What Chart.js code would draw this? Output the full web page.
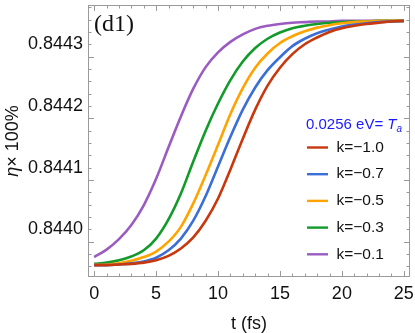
<!DOCTYPE html>
<html>
<head>
<meta charset="utf-8">
<script src="https://cdn.jsdelivr.net/npm/chart.js@4.4.1/dist/chart.umd.min.js"></script>
<style>
  html, body { margin: 0; padding: 0; background: #ffffff; }
  #wrap { width: 415px; height: 333px; }
</style>
</head>
<body>
<div id="wrap"><canvas id="c" width="415" height="333"></canvas></div>
<script>
// ---- data ----
const timeFs = [0,1,2,3,4,5,6,7,8,9,10,11,12,13,14,15,16,17,18,19,20,21,22,23,24,25];
const kMinus10 = [0.843942,0.843942,0.843943,0.843944,0.843946,0.843950,0.843957,0.843969,0.843987,0.844014,0.844050,0.844097,0.844147,0.844194,0.844233,0.844262,0.844284,0.844300,0.844311,0.844320,0.844326,0.844330,0.844333,0.844335,0.844337,0.844338];
const kMinus07 = [0.843942,0.843942,0.843943,0.843945,0.843948,0.843954,0.843966,0.843985,0.844014,0.844054,0.844102,0.844150,0.844194,0.844230,0.844258,0.844279,0.844297,0.844309,0.844318,0.844324,0.844329,0.844332,0.844334,0.844336,0.844337,0.844338];
const kMinus05 = [0.843942,0.843943,0.843945,0.843949,0.843955,0.843964,0.843980,0.844004,0.844042,0.844088,0.844137,0.844187,0.844229,0.844262,0.844285,0.844302,0.844313,0.844321,0.844327,0.844331,0.844334,0.844336,0.844337,0.844338,0.844338,0.844338];
const kMinus03 = [0.843944,0.843946,0.843950,0.843956,0.843966,0.843985,0.844016,0.844058,0.844110,0.844160,0.844204,0.844242,0.844272,0.844294,0.844309,0.844319,0.844326,0.844330,0.844333,0.844335,0.844336,0.844337,0.844337,0.844338,0.844338,0.844338];
const kMinus01 = [0.843955,0.843967,0.843984,0.844007,0.844039,0.844082,0.844133,0.844183,0.844228,0.844263,0.844287,0.844304,0.844316,0.844325,0.844330,0.844333,0.844335,0.844336,0.844337,0.844337,0.844338,0.844338,0.844338,0.844338,0.844338,0.844338];
const seriesLabels = ["k=\u22121.0","k=\u22120.7","k=\u22120.5","k=\u22120.3","k=\u22120.1"];
const xTickLabels = [0,5,10,15,20,25];
const yTickLabels = [0.8440,0.8441,0.8442,0.8443];

const colors = ["#c8380e","#3b6fd6","#ffa300","#129a2a","#9b5cc2"];
const allSeries = [kMinus10,kMinus07,kMinus05,kMinus03,kMinus01];

const SANS = "'Liberation Sans', Arial, sans-serif";
const SERIF = "'Liberation Serif', 'Times New Roman', serif";
const FRAME = "#9a9a9a";

const datasets = allSeries.map((arr, i) => ({
  label: seriesLabels[i],
  data: timeFs.map((t, j) => ({x: t, y: arr[j]})),
  borderColor: colors[i],
  backgroundColor: colors[i],
  borderWidth: 2.6,
  pointRadius: 0,
  fill: false,
  cubicInterpolationMode: 'monotone'
}));

const decor = {
  id: 'decor',
  afterDraw(chart) {
    const ctx = chart.ctx;
    const a = chart.chartArea;
    const xs = chart.scales.x, ys = chart.scales.y;
    ctx.save();
    // frame
    ctx.strokeStyle = FRAME;
    ctx.lineWidth = 1;
    ctx.strokeRect(Math.round(a.left)+0.5, Math.round(a.top)+0.5, Math.round(a.right-a.left)-1, Math.round(a.bottom-a.top)-1);
    // x ticks (inward, top & bottom)
    for (let t = 0; t <= 25; t++) {
      const px = Math.round(xs.getPixelForValue(t)) + 0.5;
      const len = (t % 5 === 0) ? 6 : 3.5;
      ctx.beginPath();
      ctx.moveTo(px, a.bottom); ctx.lineTo(px, a.bottom - len);
      ctx.moveTo(px, a.top); ctx.lineTo(px, a.top + len);
      ctx.stroke();
    }
    // y ticks (inward, left & right)
    for (let k = 0; k <= 21; k++) {
      const v = 0.84394 + k * 0.00002;
      if (v < ys.min || v > ys.max) continue;
      const py = Math.round(ys.getPixelForValue(v)) + 0.5;
      const len = ((k + 3) % 5 === 0) ? 6 : 3.5;
      ctx.beginPath();
      ctx.moveTo(a.left, py); ctx.lineTo(a.left + len, py);
      ctx.moveTo(a.right, py); ctx.lineTo(a.right - len, py);
      ctx.stroke();
    }
    // panel label
    ctx.fillStyle = "#111";
    ctx.font = "24px " + SERIF;
    ctx.textBaseline = "middle";
    ctx.textAlign = "left";
    ctx.fillText("(d1)", 94, 25);

    // y title (rotated)
    ctx.save();
    ctx.translate(13, (a.top + a.bottom) / 2);
    ctx.rotate(-Math.PI / 2);
    ctx.textBaseline = "middle";
    const p1 = "\u03b7", p2 = "\u00d7 100%";
    ctx.font = "italic 18px " + SANS;
    const w1 = ctx.measureText(p1).width;
    ctx.font = "18px " + SANS;
    const w2 = ctx.measureText(p2).width;
    let sx = -(w1 + w2) / 2;
    ctx.font = "italic 18px " + SANS;
    ctx.fillText(p1, sx, 0);
    ctx.font = "18px " + SANS;
    ctx.fillText(p2, sx + w1, 0);
    ctx.restore();

    // x title
    ctx.font = "18px " + SANS;
    ctx.textAlign = "center";
    ctx.textBaseline = "middle";
    ctx.fillStyle = "#111";
    ctx.fillText("t (fs)", 249, 324);

    // legend title
    ctx.textAlign = "left";
    ctx.fillStyle = "#1a1aff";
    ctx.font = "15px " + SANS;
    let lx = 306;
    const ly = 125;
    const s1 = "0.0256 eV= ";
    ctx.fillText(s1, lx, ly);
    lx += ctx.measureText(s1).width;
    ctx.font = "italic 15px " + SANS;
    ctx.fillText("T", lx, ly);
    lx += ctx.measureText("T").width;
    ctx.font = "italic 10px " + SANS;
    ctx.fillText("a", lx, ly + 4);

    // legend items
    ctx.font = "15.5px " + SANS;
    for (let i = 0; i < seriesLabels.length; i++) {
      const y = 147.5 + i * 26.7;
      ctx.strokeStyle = colors[i];
      ctx.lineWidth = 2.4;
      ctx.beginPath();
      ctx.moveTo(307, y); ctx.lineTo(328, y);
      ctx.stroke();
      ctx.fillStyle = "#111";
      ctx.fillText(seriesLabels[i], 336.5, y);
    }
    ctx.restore();
  }
};

new Chart(document.getElementById('c'), {
  type: 'line',
  data: { datasets },
  options: {
    responsive: false,
    animation: false,
    devicePixelRatio: 1,
    layout: { padding: { top: 5, right: 5, left: 0, bottom: 0 } },
    plugins: { legend: { display: false }, tooltip: { enabled: false } },
    scales: {
      x: {
        type: 'linear',
        min: -0.5, max: 25.5,
        afterBuildTicks: s => { s.ticks = xTickLabels.map(v => ({ value: v })); },
        afterFit: s => { s.height = 56; s.paddingLeft = 0; s.paddingRight = 0; },
        ticks: { font: { family: SANS, size: 18 }, color: '#111', padding: 6, maxRotation: 0, autoSkip: false,
                 callback: v => String(v) },
        grid: { display: false, drawTicks: false },
        border: { display: false }
      },
      y: {
        type: 'linear',
        min: 0.8439227, max: 0.8443637,
        afterBuildTicks: s => { s.ticks = yTickLabels.map(v => ({ value: v })); },
        afterFit: s => { s.width = 88; s.paddingTop = 0; s.paddingBottom = 0; },
        ticks: { font: { family: SANS, size: 18 }, color: '#111', padding: 5, autoSkip: false,
                 callback: v => Number(v).toFixed(4) },
        grid: { display: false, drawTicks: false },
        border: { display: false }
      }
    }
  },
  plugins: [decor]
});
</script>
</body>
</html>
